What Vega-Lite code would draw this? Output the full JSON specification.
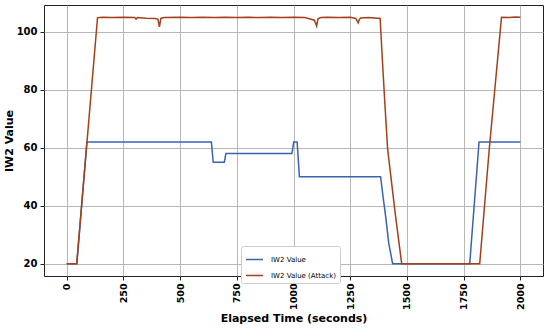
{
  "$schema": "https://vega.github.io/schema/vega-lite/v6.json",
  "width": 499,
  "height": 271,
  "autosize": {"type": "none"},
  "padding": {"left": 44, "top": 5, "right": 7, "bottom": 53},
  "background": "white",
  "config": {
    "font": "DejaVu Sans",
    "view": {"stroke": "#222222", "strokeWidth": 1},
    "axis": {
      "domain": false,
      "grid": true,
      "gridColor": "#b0b0b0",
      "gridWidth": 0.9,
      "tickColor": "#222222",
      "tickSize": 4,
      "labelFont": "DejaVu Sans",
      "labelFontWeight": "bold",
      "labelFontSize": 10,
      "labelColor": "#000000",
      "titleFont": "DejaVu Sans",
      "titleFontWeight": "bold",
      "titleFontSize": 11,
      "titleColor": "#000000"
    }
  },
  "data": {
    "values": [
      {"t": 0, "v": 20, "s": "IW2 Value"},
      {"t": 45, "v": 20, "s": "IW2 Value"},
      {"t": 89, "v": 62, "s": "IW2 Value"},
      {"t": 638, "v": 62, "s": "IW2 Value"},
      {"t": 646, "v": 55, "s": "IW2 Value"},
      {"t": 695, "v": 55, "s": "IW2 Value"},
      {"t": 702, "v": 58, "s": "IW2 Value"},
      {"t": 993, "v": 58, "s": "IW2 Value"},
      {"t": 1001, "v": 62, "s": "IW2 Value"},
      {"t": 1016, "v": 62, "s": "IW2 Value"},
      {"t": 1026, "v": 50, "s": "IW2 Value"},
      {"t": 1384, "v": 50, "s": "IW2 Value"},
      {"t": 1395, "v": 43, "s": "IW2 Value"},
      {"t": 1406, "v": 36.5, "s": "IW2 Value"},
      {"t": 1420, "v": 27, "s": "IW2 Value"},
      {"t": 1437, "v": 20, "s": "IW2 Value"},
      {"t": 1777, "v": 20, "s": "IW2 Value"},
      {"t": 1818, "v": 62, "s": "IW2 Value"},
      {"t": 2000, "v": 62, "s": "IW2 Value"},
      {"t": 0, "v": 20, "s": "IW2 Value (Attack)"},
      {"t": 44, "v": 20, "s": "IW2 Value (Attack)"},
      {"t": 136, "v": 104.9, "s": "IW2 Value (Attack)"},
      {"t": 160, "v": 105.0, "s": "IW2 Value (Attack)"},
      {"t": 200, "v": 104.9, "s": "IW2 Value (Attack)"},
      {"t": 250, "v": 105.0, "s": "IW2 Value (Attack)"},
      {"t": 300, "v": 104.9, "s": "IW2 Value (Attack)"},
      {"t": 306, "v": 104.4, "s": "IW2 Value (Attack)"},
      {"t": 312, "v": 104.9, "s": "IW2 Value (Attack)"},
      {"t": 350, "v": 104.7, "s": "IW2 Value (Attack)"},
      {"t": 390, "v": 104.6, "s": "IW2 Value (Attack)"},
      {"t": 402, "v": 104.4, "s": "IW2 Value (Attack)"},
      {"t": 409, "v": 101.7, "s": "IW2 Value (Attack)"},
      {"t": 415, "v": 104.6, "s": "IW2 Value (Attack)"},
      {"t": 430, "v": 104.9, "s": "IW2 Value (Attack)"},
      {"t": 500, "v": 105.0, "s": "IW2 Value (Attack)"},
      {"t": 550, "v": 104.9, "s": "IW2 Value (Attack)"},
      {"t": 600, "v": 105.0, "s": "IW2 Value (Attack)"},
      {"t": 650, "v": 104.9, "s": "IW2 Value (Attack)"},
      {"t": 700, "v": 105.0, "s": "IW2 Value (Attack)"},
      {"t": 750, "v": 104.9, "s": "IW2 Value (Attack)"},
      {"t": 800, "v": 105.0, "s": "IW2 Value (Attack)"},
      {"t": 850, "v": 104.9, "s": "IW2 Value (Attack)"},
      {"t": 900, "v": 105.0, "s": "IW2 Value (Attack)"},
      {"t": 950, "v": 104.9, "s": "IW2 Value (Attack)"},
      {"t": 1000, "v": 105.0, "s": "IW2 Value (Attack)"},
      {"t": 1050, "v": 104.9, "s": "IW2 Value (Attack)"},
      {"t": 1070, "v": 104.5, "s": "IW2 Value (Attack)"},
      {"t": 1092, "v": 104.0, "s": "IW2 Value (Attack)"},
      {"t": 1102, "v": 102.0, "s": "IW2 Value (Attack)"},
      {"t": 1108, "v": 104.5, "s": "IW2 Value (Attack)"},
      {"t": 1120, "v": 104.9, "s": "IW2 Value (Attack)"},
      {"t": 1150, "v": 105.0, "s": "IW2 Value (Attack)"},
      {"t": 1200, "v": 104.9, "s": "IW2 Value (Attack)"},
      {"t": 1250, "v": 105.0, "s": "IW2 Value (Attack)"},
      {"t": 1275, "v": 104.6, "s": "IW2 Value (Attack)"},
      {"t": 1285, "v": 103.1, "s": "IW2 Value (Attack)"},
      {"t": 1290, "v": 104.2, "s": "IW2 Value (Attack)"},
      {"t": 1296, "v": 104.8, "s": "IW2 Value (Attack)"},
      {"t": 1330, "v": 104.9, "s": "IW2 Value (Attack)"},
      {"t": 1382, "v": 104.6, "s": "IW2 Value (Attack)"},
      {"t": 1392, "v": 90, "s": "IW2 Value (Attack)"},
      {"t": 1403, "v": 75, "s": "IW2 Value (Attack)"},
      {"t": 1415, "v": 59.5, "s": "IW2 Value (Attack)"},
      {"t": 1449, "v": 37, "s": "IW2 Value (Attack)"},
      {"t": 1477, "v": 20, "s": "IW2 Value (Attack)"},
      {"t": 1821, "v": 20, "s": "IW2 Value (Attack)"},
      {"t": 1863, "v": 59.5, "s": "IW2 Value (Attack)"},
      {"t": 1917, "v": 105.0, "s": "IW2 Value (Attack)"},
      {"t": 1950, "v": 104.9, "s": "IW2 Value (Attack)"},
      {"t": 1980, "v": 105.1, "s": "IW2 Value (Attack)"},
      {"t": 2000, "v": 105.0, "s": "IW2 Value (Attack)"}
    ]
  },
  "mark": {"type": "line", "strokeWidth": 1.5},
  "encoding": {
    "x": {
      "field": "t",
      "type": "quantitative",
      "scale": {"domain": [-100, 2100], "nice": false, "zero": false},
      "axis": {
        "title": "Elapsed Time (seconds)",
        "values": [0, 250, 500, 750, 1000, 1250, 1500, 1750, 2000],
        "format": "d",
        "labelAngle": -90,
        "labelFontSize": 9.5,
        "labelPadding": 3,
        "titlePadding": 3
      }
    },
    "y": {
      "field": "v",
      "type": "quantitative",
      "scale": {"domain": [15.75, 109.25], "nice": false, "zero": false},
      "axis": {
        "title": "IW2 Value",
        "values": [20, 40, 60, 80, 100],
        "labelPadding": 3,
        "titlePadding": 2
      }
    },
    "color": {
      "field": "s",
      "type": "nominal",
      "scale": {
        "domain": ["IW2 Value", "IW2 Value (Attack)"],
        "range": ["#3b63b0", "#a4401a"]
      },
      "legend": {
        "title": null,
        "orient": "none",
        "legendX": 197,
        "legendY": 241,
        "fillColor": "white",
        "strokeColor": "#cccccc",
        "cornerRadius": 2,
        "padding": 4,
        "labelFont": "DejaVu Sans",
        "labelFontSize": 7,
        "labelColor": "#000000",
        "labelOffset": 7,
        "symbolType": "stroke",
        "symbolSize": 289,
        "symbolStrokeWidth": 1.5,
        "rowPadding": 3
      }
    }
  }
}
